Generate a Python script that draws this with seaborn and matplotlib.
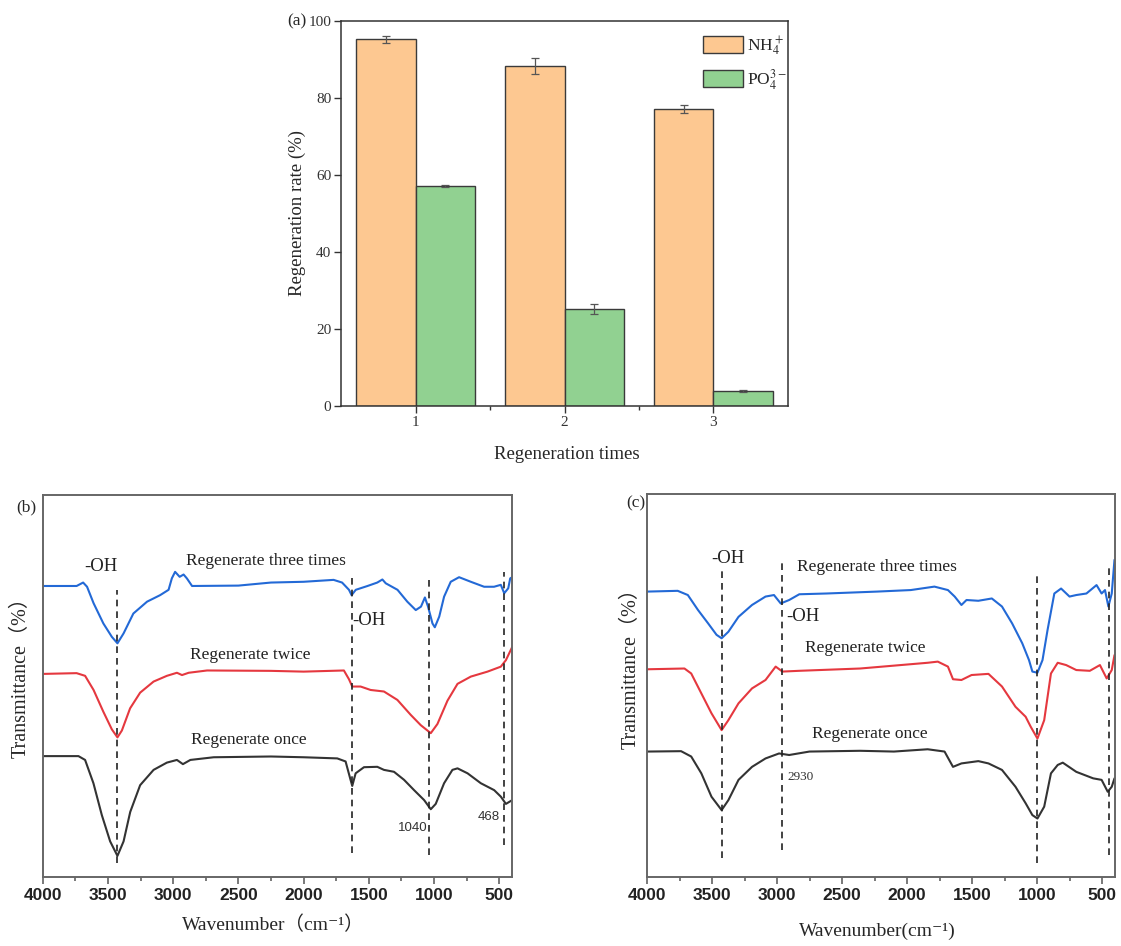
import matplotlib
matplotlib.use("Agg")
import matplotlib.pyplot as plt
import numpy as np
import pandas as pd
import seaborn as sns

# ---------------- data ----------------
# (a) regeneration rate
times = ["1", "2", "3"]
nh4_rate = [95.3, 88.3, 77.1]
nh4_err = [0.9, 2.0, 1.0]
po4_rate = [57.2, 25.1, 3.9]
po4_err = [0.3, 1.3, 0.2]
ion_labels = ["NH$_4^+$", "PO$_4^{3-}$"]

# (b) FTIR spectra (wavenumber cm-1, transmittance a.u.)
b_three_wn = [4000, 3740, 3690, 3660, 3610, 3535, 3470, 3427, 3380, 3305, 3200, 3100, 3035, 3010, 2985,
              2950, 2920, 2895, 2855, 2500, 2250, 2000, 1770, 1705, 1652, 1632, 1600, 1510, 1435, 1396,
              1370, 1280, 1205, 1140, 1100, 1070, 1046, 1012, 994, 960, 923, 872, 808, 718, 616,
              540, 488, 462, 431, 416, 400]
b_three_t = [76.2, 76.2, 77.1, 76.0, 71.7, 66.4, 62.9, 61.2, 63.8, 69.0, 72.1, 73.8, 75.2, 78.2, 79.9,
             78.6, 79.2, 78.2, 76.2, 76.3, 77.1, 77.3, 77.8, 77.1, 75.2, 73.8, 75.2, 76.2, 77.1, 77.9,
             76.9, 75.2, 72.1, 69.9, 70.8, 73.2, 70.8, 66.4, 65.4, 68.2, 73.4, 77.3, 78.5, 77.3, 76.0,
             76.0, 76.5, 74.3, 75.6, 78.2, 78.5]
b_twice_wn = [4000, 3740, 3675, 3610, 3535, 3470, 3427, 3393, 3330, 3253, 3150, 3048, 2971, 2932, 2881,
              2740, 2250, 2000, 1793, 1691, 1652, 1627, 1563, 1486, 1384, 1281, 1179, 1102, 1025, 974,
              897, 820, 718, 590, 488, 449, 400]
b_twice_t = [53.2, 53.4, 52.7, 49.0, 43.3, 38.7, 36.6, 38.4, 44.2, 48.3, 51.2, 52.7, 53.5, 52.9, 53.5,
             54.1, 54.0, 53.8, 54.0, 54.1, 51.8, 49.9, 49.9, 49.0, 48.6, 46.4, 42.5, 39.8, 37.7, 40.1,
             46.2, 50.6, 52.5, 53.8, 55.1, 56.8, 60.3]
b_once_wn = [4000, 3726, 3675, 3611, 3547, 3483, 3427, 3380, 3329, 3253, 3150, 3048, 2971, 2925, 2868,
             2689, 2250, 2000, 1742, 1678, 1640, 1627, 1601, 1537, 1435, 1384, 1307, 1230, 1153, 1076,
             1025, 987, 923, 859, 820, 743, 641, 539, 488, 449, 400]
b_once_t = [31.7, 31.7, 30.7, 24.6, 16.3, 9.4, 5.6, 9.4, 17.1, 24.1, 28.1, 30.0, 30.7, 29.6, 30.7,
            31.4, 31.6, 31.4, 31.1, 30.3, 25.5, 23.9, 27.2, 28.8, 28.9, 28.1, 27.6, 25.5, 22.8, 20.2,
            17.8, 19.2, 24.6, 28.1, 28.5, 27.2, 24.6, 22.8, 21.1, 19.2, 20.2]

# (c) FTIR spectra
c_three_wn = [4000, 3766, 3688, 3610, 3532, 3467, 3428, 3376, 3298, 3194, 3090, 3025, 2973, 2908, 2830,
              2622, 2232, 1972, 1790, 1686, 1634, 1582, 1543, 1452, 1348, 1270, 1192, 1114, 1062, 1036,
              997, 958, 919, 867, 815, 750, 698, 620, 542, 503, 477, 451, 425, 404]
c_three_t = [74.5, 74.7, 73.6, 69.7, 66.2, 63.2, 62.3, 64.0, 67.9, 71.0, 73.2, 73.6, 71.4, 72.3, 73.8,
             74.0, 74.5, 74.9, 75.8, 74.9, 73.2, 71.0, 72.3, 72.1, 72.7, 70.6, 66.2, 61.0, 56.6, 53.6,
             53.3, 56.6, 64.5, 74.0, 75.3, 73.2, 73.6, 74.0, 76.2, 74.0, 74.9, 70.6, 74.0, 82.8]
c_twice_wn = [4000, 3714, 3662, 3584, 3506, 3428, 3376, 3298, 3194, 3090, 3012, 2960, 2830, 2362, 1842,
              1764, 1686, 1647, 1582, 1504, 1374, 1270, 1166, 1088, 1049, 997, 945, 893, 841, 776,
              698, 594, 516, 464, 425, 404]
c_twice_t = [54.2, 54.4, 53.1, 47.9, 42.7, 38.3, 40.9, 45.3, 49.2, 51.4, 54.9, 53.6, 53.8, 54.4, 55.9,
             56.2, 54.9, 51.6, 51.4, 52.7, 53.0, 49.7, 44.4, 41.8, 39.2, 36.1, 40.9, 53.1, 55.9, 55.3,
             54.0, 53.8, 55.3, 51.8, 54.0, 57.9]
c_once_wn = [4000, 3740, 3662, 3584, 3506, 3428, 3376, 3298, 3194, 3090, 2986, 2908, 2752, 2362, 2102,
             1842, 1712, 1647, 1582, 1452, 1374, 1270, 1166, 1088, 1036, 997, 945, 893, 841, 802,
             698, 568, 503, 456, 425, 404]
c_once_t = [32.7, 32.8, 31.4, 27.0, 20.9, 17.4, 20.0, 25.3, 28.7, 30.9, 32.2, 31.8, 32.7, 32.9, 32.7,
            33.3, 32.7, 28.7, 29.6, 30.2, 29.6, 27.9, 23.5, 19.2, 16.1, 15.2, 18.3, 27.0, 29.2, 29.8,
            27.4, 25.7, 25.3, 22.2, 23.5, 25.7]

sample_names = ["Regenerate three times", "Regenerate twice", "Regenerate once"]

# marked peaks (dashed guides): position, lower, upper
b_peaks = [3430, 1630, 1035, 466]
b_peak_lo = [3.7, 6.3, 5.8, 8.5]
b_peak_hi = [75.2, 79.1, 78.2, 79.9]
c_peaks = [3428, 2962, 1000, 448]
c_peak_lo = [4.8, 7.0, 3.5, 5.7]
c_peak_hi = [80.6, 82.3, 78.8, 81.4]

# ---------------- style ----------------
sns.set_style("white")
plt.rcParams["font.family"] = ["Liberation Serif", "DejaVu Serif", "Noto Sans CJK SC"]
plt.rcParams["mathtext.fontset"] = "stix"

W, H = 1121, 946
fig = plt.figure(figsize=(W / 100, H / 100), dpi=100)


def px_axes(l, r, t, b):
    return [l / W, (H - b) / H, (r - l) / W, (b - t) / H]


# ---------------- (a) ----------------
axa = fig.add_axes(px_axes(341, 788, 21, 406))
df_a = pd.DataFrame({
    "times": times * 2,
    "rate": nh4_rate + po4_rate,
    "ion": [ion_labels[0]] * 3 + [ion_labels[1]] * 3,
})
pal_a = {ion_labels[0]: "#FDC891", ion_labels[1]: "#91D191"}
sns.barplot(data=df_a, x="times", y="rate", hue="ion", palette=pal_a, saturation=1,
            edgecolor="#3a3a3a", linewidth=1.0, errorbar=None, width=0.8, ax=axa)
for cont, errs in zip(axa.containers, [nh4_err, po4_err]):
    xs = [p.get_x() + p.get_width() / 2 for p in cont]
    ys = [p.get_height() for p in cont]
    axa.errorbar(xs, ys, yerr=errs, fmt="none", ecolor="#555555", elinewidth=0.9,
                 capsize=3, capthick=0.9)
axa.set_xlim(-0.5, 2.5)
axa.set_ylim(0, 100)
axa.set_yticks(np.arange(0, 101, 20))
axa.set_xticks([0.5, 1.5], minor=True)
axa.tick_params(axis="both", which="major", direction="out", length=5, width=1,
                labelsize=11, labelcolor="#333333", color="#333333", pad=2,
                bottom=True, left=True, top=False, right=False)
axa.tick_params(axis="x", which="minor", direction="out", length=3, width=1, color="#333333",
                bottom=True)
for s in axa.spines.values():
    s.set_color("#333333")
    s.set_linewidth(1.1)
axa.set_xlabel("Regeneration times", fontsize=13.5)
axa.set_ylabel("Regeneration rate (%)", fontsize=13.5)
axa.xaxis.set_label_coords(0.505, -0.105)
axa.yaxis.set_label_coords(-0.078, 0.5)
axa.legend(loc="upper left", bbox_to_anchor=(0.81, 0.966), frameon=False, fontsize=12.5,
           handlelength=2.3, handleheight=1.1, borderpad=0, borderaxespad=0,
           labelspacing=0.55, handletextpad=0.25)
fig.text(306 / W, 1 - 21 / H, "(a)", fontsize=12.5, ha="right", va="center")

# ---------------- (b), (c) ----------------
colors = {sample_names[0]: "#2369D6", sample_names[1]: "#E5383F", sample_names[2]: "#333333"}


def spectra_panel(ax, wns, ts, peaks, lo, hi, texts, xlabel, ylabel_coords, xlabel_coords):
    frames = []
    for name, wn, t in zip(sample_names, wns, ts):
        frames.append(pd.DataFrame({"wn": wn, "T": t, "sample": name}))
    df = pd.concat(frames, ignore_index=True)
    sns.lineplot(data=df, x="wn", y="T", hue="sample", palette=colors, estimator=None,
                 legend=False, linewidth=1.5, ax=ax)
    ax.vlines(peaks, lo, hi, colors="#222222", linestyles=(0, (4, 3)), linewidth=1.2)
    ax.set_xlim(4000, 400)
    ax.set_ylim(0, 100)
    ticks = np.arange(4000, 499, -500)
    ax.set_xticks(ticks)
    ax.set_xticklabels([str(v) for v in ticks], fontfamily="Liberation Sans",
                       fontweight="bold", fontsize=12.5, color="#222222")
    ax.set_xticks(np.arange(3750, 400, -500), minor=True)
    ax.set_yticks([])
    ax.tick_params(axis="x", which="major", direction="out", length=5, width=1.1,
                   color="#555555", bottom=True, top=False, pad=3)
    ax.tick_params(axis="x", which="minor", direction="out", length=3, width=1.1,
                   color="#555555", bottom=True, top=False)
    for s in ax.spines.values():
        s.set_color("#666666")
        s.set_linewidth(1.4)
    ax.set_xlabel(xlabel, fontsize=14, va="center")
    ax.set_ylabel("Transmittance（%）", fontsize=14.5, va="center")
    ax.xaxis.set_label_coords(*xlabel_coords)
    ax.yaxis.set_label_coords(*ylabel_coords)
    for (x, y, s, kw) in texts:
        ax.text(x, y, s, ha="center", va="center", **kw)


serif = dict(fontsize=12.5, color="#222222")
small_sans = dict(fontsize=9.5, color="#333333", fontfamily="Liberation Sans")

axb = fig.add_axes(px_axes(42.7, 512.3, 495, 877.3))
spectra_panel(
    axb,
    [b_three_wn, b_twice_wn, b_once_wn],
    [b_three_t, b_twice_t, b_once_t],
    b_peaks, b_peak_lo, b_peak_hi,
    [(3552, 81.2, "-OH", dict(fontsize=13.5, color="#222222")),
     (2285, 82.7, sample_names[0], serif),
     (2407, 58.2, sample_names[1], serif),
     (2423, 35.9, sample_names[2], serif),
     (1502, 67.3, "-OH", dict(fontsize=13.5, color="#222222")),
     (1160, 12.9, "1040", small_sans),
     (580, 15.7, "468", small_sans)],
    "Wavenumber（cm⁻¹）", (-0.045, 0.537), (0.49, -0.125))
fig.text(26 / W, 1 - 507 / H, "(b)", fontsize=12.5, ha="center", va="center")

axc = fig.add_axes(px_axes(647.3, 1115, 494, 876.7))
spectra_panel(
    axc,
    [c_three_wn, c_twice_wn, c_once_wn],
    [c_three_t, c_twice_t, c_once_t],
    c_peaks, c_peak_lo, c_peak_hi,
    [(3376, 83.2, "-OH", dict(fontsize=13.5, color="#222222")),
     (2232, 81.0, sample_names[0], serif),
     (2804, 67.9, "-OH", dict(fontsize=13.5, color="#222222")),
     (2323, 59.7, sample_names[1], serif),
     (2284, 37.3, sample_names[2], serif),
     (2817, 26.1, "2930", dict(fontsize=9.5, color="#333333"))],
    "Wavenumber(cm⁻¹)", (-0.035, 0.558), (0.491, -0.144))
fig.text(636 / W, 1 - 503 / H, "(c)", fontsize=12.5, ha="center", va="center")

fig.savefig("out.png", dpi=100)
